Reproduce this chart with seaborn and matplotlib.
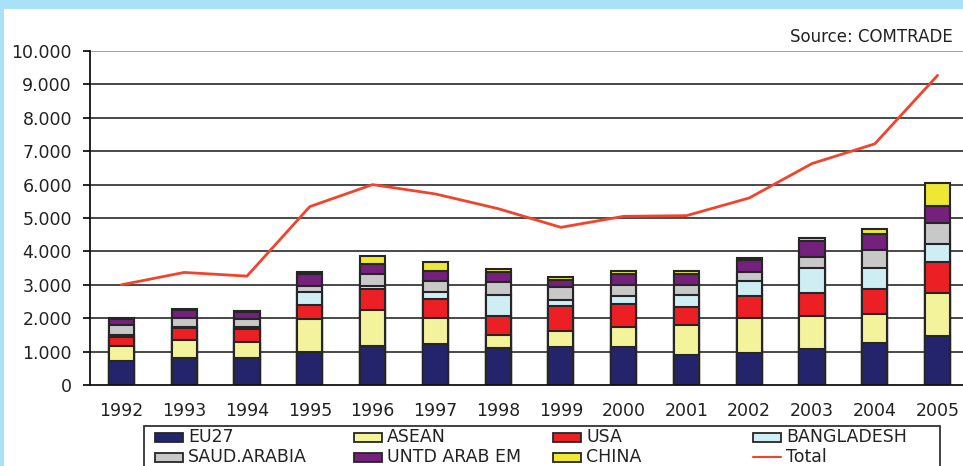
import numpy as np
import pandas as pd
import matplotlib
matplotlib.use("Agg")
import matplotlib.pyplot as plt
import seaborn as sns
from matplotlib.patches import Rectangle
from matplotlib.lines import Line2D
from matplotlib.ticker import FuncFormatter, FixedLocator

# values (thousands)
years = ['1992', '1993', '1994', '1995', '1996', '1997', '1998',
         '1999', '2000', '2001', '2002', '2003', '2004', '2005']
eu27 = [730, 800, 800, 1000, 1170, 1230, 1100, 1130, 1130, 900, 970, 1070, 1250, 1480]
asean = [440, 550, 480, 970, 1080, 790, 400, 500, 600, 900, 1050, 1010, 880, 1270]
usa = [280, 350, 390, 430, 620, 560, 570, 740, 690, 550, 630, 670, 750, 920]
bangladesh = [60, 50, 60, 370, 100, 190, 630, 180, 230, 350, 450, 740, 620, 560]
saud_arabia = [300, 250, 240, 200, 350, 330, 370, 370, 330, 280, 280, 340, 550, 620]
untd_arab_em = [170, 250, 230, 350, 300, 300, 300, 230, 340, 340, 350, 470, 480, 520]
china = [20, 30, 20, 60, 230, 270, 100, 80, 80, 80, 70, 100, 150, 680]
total = [3000, 3370, 3260, 5340, 6000, 5720, 5280, 4720, 5050, 5070, 5600, 6630, 7220, 9270]

series_names = ['EU27', 'ASEAN', 'USA', 'BANGLADESH', 'SAUD.ARABIA', 'UNTD ARAB EM', 'CHINA']
series_vals = [eu27, asean, usa, bangladesh, saud_arabia, untd_arab_em, china]
series_cols = ['#24246C', '#F3F39C', '#EC2024', '#CFEEF4', '#C8C8C8', '#74207C', '#EEE835']
line_col = '#F0452C'
edge_col = '#262626'
txt_col = '#222222'

sns.set_style("white")
plt.rcParams['font.family'] = ['DejaVu Sans']

W, H = 963, 466
fig = plt.figure(figsize=(W / 100, H / 100), dpi=100)
fig.patch.set_facecolor('#A9E1F8')
# white panel inside the light blue frame
fig.add_artist(Rectangle((4 / W, 0), 1, 1 - 9 / H, transform=fig.transFigure,
                         facecolor='white', edgecolor='none', zorder=0))

ax = fig.add_axes([90 / W, 1 - 385 / H, 879 / W, 334 / H])
ax.set_facecolor('none')

# stacked bars: draw cumulative heights from the top layer down
df = pd.DataFrame(dict(zip(series_names, series_vals)), index=years)
cum = df.cumsum(axis=1)
for name, col in reversed(list(zip(series_names, series_cols))):
    sns.barplot(x=years, y=cum[name].values, color=col, saturation=1,
                edgecolor=edge_col, linewidth=1.5, width=0.4, ax=ax, zorder=3)

sns.lineplot(x=np.arange(len(years)), y=total, color=line_col, linewidth=2.0,
             ax=ax, zorder=4)

ax.set_xlim(-0.5, len(years) - 0.5)
ax.set_ylim(0, 10000)
ax.set_xlabel('')
ax.set_ylabel('')

# gridlines
ax.set_yticks(np.arange(0, 10001, 1000))
for v in np.arange(1000, 10001, 1000):
    ax.axhline(v, color='#9a9a9a' if v == 10000 else '#3a3a3a', lw=1.3, zorder=1)
ax.yaxis.set_major_formatter(FuncFormatter(lambda v, p: f"{int(v):,}".replace(',', '.')))

ax.set_xticks(np.arange(len(years)))
ax.set_xticklabels(years)
ax.xaxis.set_minor_locator(FixedLocator(np.arange(len(years) + 1) - 0.5))
ax.tick_params(axis='x', which='major', length=0, pad=12, labelsize=12.5, labelcolor=txt_col)
ax.tick_params(axis='x', which='minor', length=5, width=1.3, color='#111111', direction='out')
ax.tick_params(axis='y', which='major', length=5, width=1.3, color='#111111', direction='out',
               pad=8, labelsize=12.5, labelcolor=txt_col, left=True)

for s in ['top', 'right']:
    ax.spines[s].set_visible(False)
for s in ['left', 'bottom']:
    ax.spines[s].set_color('#111111')
    ax.spines[s].set_linewidth(1.3)
    ax.spines[s].set_zorder(5)

fig.text(953 / W, 1 - 37 / H, 'Source: COMTRADE', ha='right', va='center',
         fontsize=12, color=txt_col)

# legend laid out like the original (fixed column pitch, 2 rows)
fig.add_artist(Rectangle((144 / W, -0.05), (940 - 144) / W, 0.05 + (466 - 426) / H,
                         transform=fig.transFigure, facecolor='white',
                         edgecolor='#333333', lw=1.3, zorder=5))
col_x = [155, 354, 553, 753]
row_y = [437.5, 457]
legend_order = [0, 4, 1, 5, 2, 6, 3, 7]   # column-major like the reference
labels = series_names + ['Total']
for k, idx in enumerate(legend_order):
    cx = col_x[k // 2]
    cy = row_y[k % 2]
    if idx < len(series_names):
        fig.add_artist(Rectangle((cx / W, 1 - (cy + 4.5) / H), 28 / W, 9 / H,
                                 transform=fig.transFigure, facecolor=series_cols[idx],
                                 edgecolor=edge_col, lw=1.3, zorder=6))
    else:
        fig.add_artist(Line2D([cx / W, (cx + 28) / W], [1 - cy / H, 1 - cy / H],
                              transform=fig.transFigure, color=line_col, lw=1.5, zorder=6))
    fig.text((cx + 33) / W, 1 - cy / H, labels[idx], ha='left', va='center',
             fontsize=12.5, color=txt_col, zorder=7)

fig.savefig('out.png', dpi=100, facecolor=fig.get_facecolor())
